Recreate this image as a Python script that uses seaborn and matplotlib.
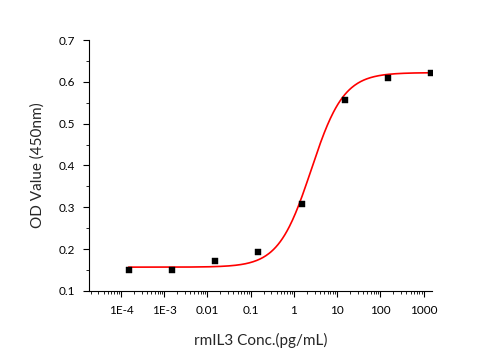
import numpy as np
import pandas as pd
import matplotlib
matplotlib.use("Agg")
import matplotlib.pyplot as plt
from matplotlib.ticker import LogLocator, FixedLocator, MultipleLocator
import seaborn as sns

# Standard curve: rmIL3 concentration (pg/mL) vs OD at 450 nm
conc = [0.00015, 0.0015, 0.015, 0.15, 1.5, 15, 150, 1500]
od = [0.150, 0.151, 0.172, 0.193, 0.308, 0.557, 0.609, 0.621]

# Four-parameter logistic fit parameters
fit_bottom = 0.157
fit_top = 0.622
fit_ec50 = 2.5
fit_hill = 1.15

x_ticks = [1e-4, 1e-3, 1e-2, 1e-1, 1, 10, 100, 1000]
x_tick_labels = ["1E-4", "1E-3", "0.01", "0.1", "1", "10", "100", "1000"]
y_ticks = [0.1, 0.2, 0.3, 0.4, 0.5, 0.6, 0.7]

sns.set_theme(style="ticks")
plt.rcParams["font.family"] = ["Lato", "DejaVu Sans"]

fig = plt.figure(figsize=(5.01, 3.5), dpi=100)
ax = fig.add_axes([0.1776, 0.1686, 0.6844, 0.7171])

xs = np.logspace(np.log10(conc[0]), np.log10(conc[-1]), 400)
ys = fit_bottom + (fit_top - fit_bottom) / (1 + (fit_ec50 / xs) ** fit_hill)
curve = pd.DataFrame({"conc": xs, "od": ys})
points = pd.DataFrame({"conc": conc, "od": od})

sns.lineplot(data=curve, x="conc", y="od", color="#ff0000", linewidth=1.2, ax=ax)
sns.scatterplot(data=points, x="conc", y="od", marker="s", color="black",
                s=20, edgecolor="black", linewidth=0.3, ax=ax, zorder=3)

ax.set_xscale("log")
ax.set_xlim(10 ** -4.74, 10 ** 3.19)
ax.set_ylim(0.1, 0.7)

ax.xaxis.set_major_locator(FixedLocator(x_ticks))
ax.set_xticklabels(x_tick_labels)
ax.xaxis.set_minor_locator(LogLocator(base=10, subs=np.arange(2, 10), numticks=20))
ax.yaxis.set_major_locator(FixedLocator(y_ticks))
ax.set_yticklabels([f"{v:.1f}" for v in y_ticks])
ax.yaxis.set_minor_locator(MultipleLocator(0.05))

ax.tick_params(axis="both", which="major", direction="out", length=4, width=0.8,
               labelsize=8.5, colors="black", pad=6)
ax.tick_params(axis="both", which="minor", direction="out", length=2, width=0.6,
               colors="black")

for side in ("top", "right"):
    ax.spines[side].set_visible(False)
for side in ("left", "bottom"):
    ax.spines[side].set_linewidth(0.8)
    ax.spines[side].set_color("black")

ax.set_xlabel("rmIL3 Conc.(pg/mL)", fontsize=11, labelpad=12)
ax.set_ylabel("OD Value (450nm)", fontsize=11, labelpad=10)

fig.savefig("out.png", dpi=100, facecolor="white")
